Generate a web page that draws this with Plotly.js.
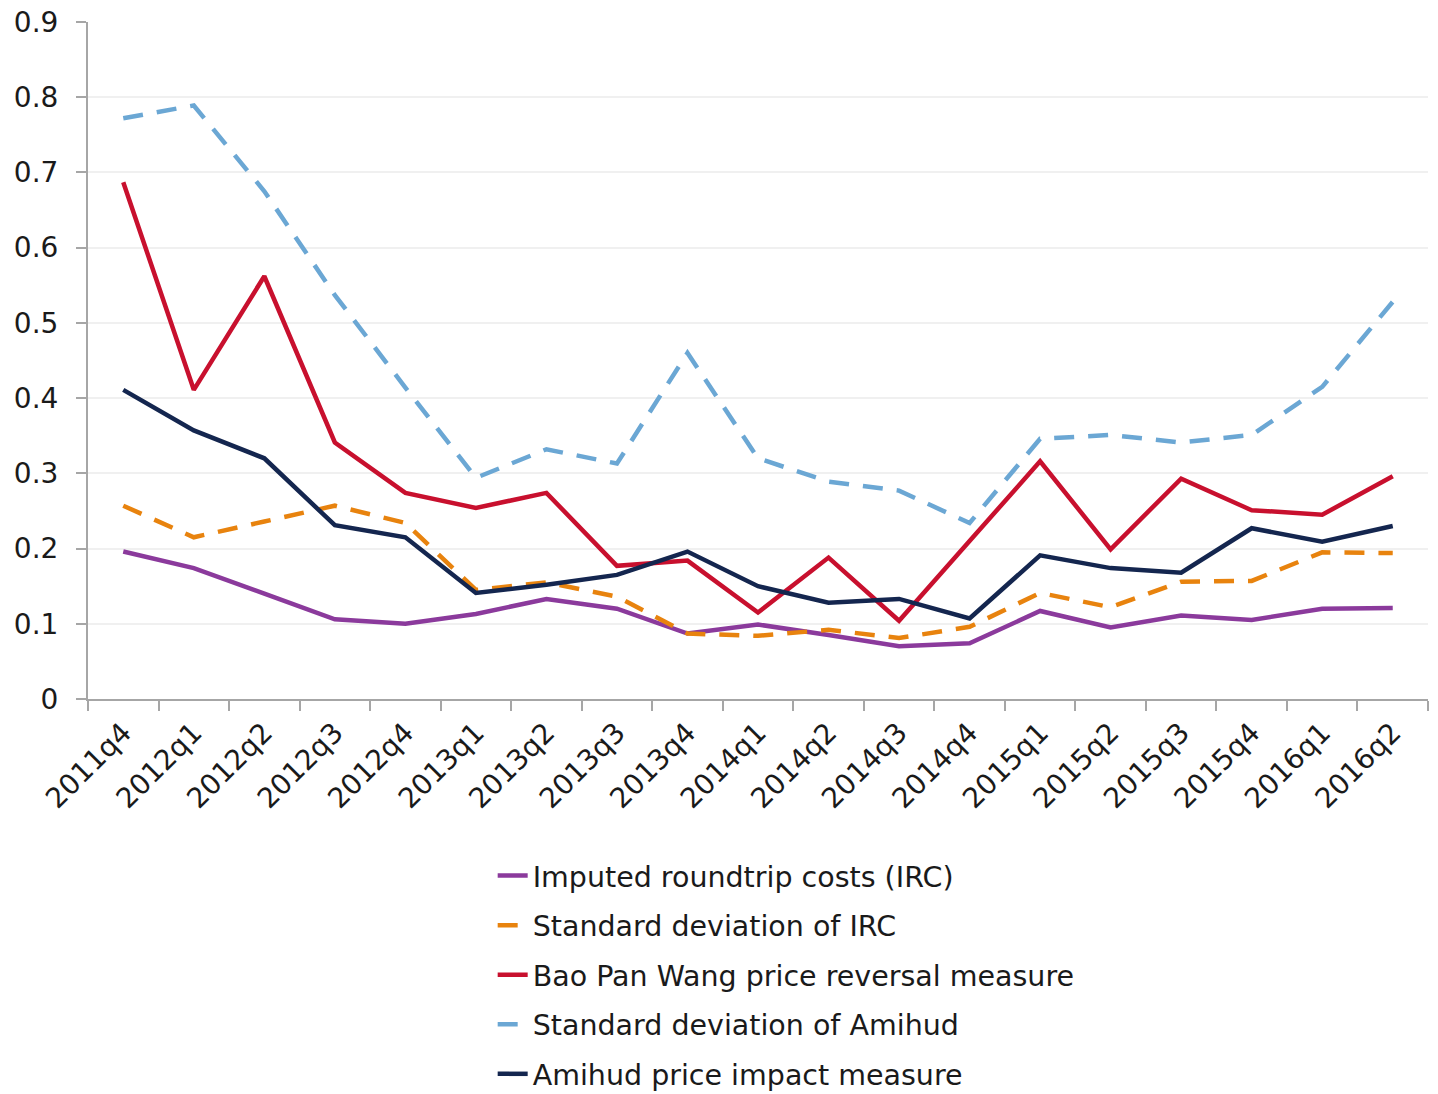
<!DOCTYPE html>
<html>
<head>
<meta charset="utf-8">
<script src="https://cdn.plot.ly/plotly-3.0.1.min.js"></script>
<style>html,body{margin:0;padding:0;background:#fff;}#chart{width:1438px;height:1094px;}</style>
</head>
<body>
<div id="chart"></div>
<script>
const quarters = ["2011q4","2012q1","2012q2","2012q3","2012q4","2013q1","2013q2","2013q3","2013q4","2014q1","2014q2","2014q3","2014q4","2015q1","2015q2","2015q3","2015q4","2016q1","2016q2"];
const irc = [0.196,0.174,0.140,0.106,0.100,0.113,0.133,0.120,0.087,0.099,0.085,0.070,0.074,0.117,0.095,0.111,0.105,0.120,0.121];
const stdIrc = [0.257,0.215,0.236,0.257,0.234,0.145,0.155,0.136,0.087,0.084,0.092,0.081,0.096,0.141,0.122,0.156,0.157,0.195,0.194];
const bpw = [0.687,0.411,0.562,0.341,0.274,0.254,0.274,0.177,0.184,0.115,0.188,0.104,0.210,0.316,0.199,0.293,0.251,0.245,0.296];
const stdAmihud = [0.772,0.789,0.675,0.537,0.414,0.294,0.332,0.313,0.460,0.320,0.289,0.277,0.234,0.346,0.351,0.341,0.351,0.415,0.528];
const amihud = [0.411,0.357,0.320,0.231,0.215,0.141,0.152,0.165,0.196,0.150,0.128,0.133,0.107,0.191,0.174,0.168,0.227,0.209,0.230];

const names = ["Imputed roundtrip costs (IRC)","Standard deviation of IRC","Bao Pan Wang price reversal measure","Standard deviation of Amihud","Amihud price impact measure"];
const series = [irc, stdIrc, bpw, stdAmihud, amihud];
const colors = ["#8B3A9C","#E8830E","#C8102E","#6BA7D4","#14264F"];
const dashes = ["solid","20px,14px","solid","20px,14px","solid"];

const traces = series.map((s,i)=>({
  type:"scatter", mode:"lines", x:quarters, y:s, name:names[i],
  legendgroup:"g"+i,
  line:{color:colors[i], width:4.5, dash:dashes[i]},
  hoverinfo:"x+y"
}));
const layout = {
  width:1438, height:1094,
  margin:{l:88, r:10, t:22, b:395},
  paper_bgcolor:"#fff", plot_bgcolor:"#fff",
  font:{family:"DejaVu Sans, Verdana, sans-serif", size:27, color:"#1a1a1a"},
  xaxis:{
    type:"category", range:[-0.5,18.5], tickson:"boundaries",
    ticks:"outside", ticklen:10, tickcolor:"#A6A6A6", tickwidth:2,
    showline:true, linecolor:"#A6A6A6", linewidth:2,
    showgrid:false, tickangle:-45, tickfont:{size:28}, ticklabelstandoff:4,
    automargin:false, fixedrange:true
  },
  yaxis:{
    range:[0,0.9], dtick:0.1, tick0:0,
    ticks:"outside", ticklen:10, tickcolor:"#A6A6A6", tickwidth:2,
    showline:true, linecolor:"#A6A6A6", linewidth:2,
    showgrid:true, gridcolor:"#F0F0F0", gridwidth:2,
    zeroline:false, tickfont:{size:28}, ticklabelstandoff:12,
    automargin:false, fixedrange:true
  },
  showlegend:true,
  legend:{
    orientation:"v", xref:"paper", x:0.302, xanchor:"left",
    yref:"container", y:0.2225, yanchor:"top",
    font:{size:28.5, color:"#1a1a1a"}, traceorder:"grouped", tracegroupgap:9.5,
    bgcolor:"rgba(0,0,0,0)"
  }
};
Plotly.newPlot("chart", traces, layout, {staticPlot:true, displayModeBar:false});
</script>
</body>
</html>
